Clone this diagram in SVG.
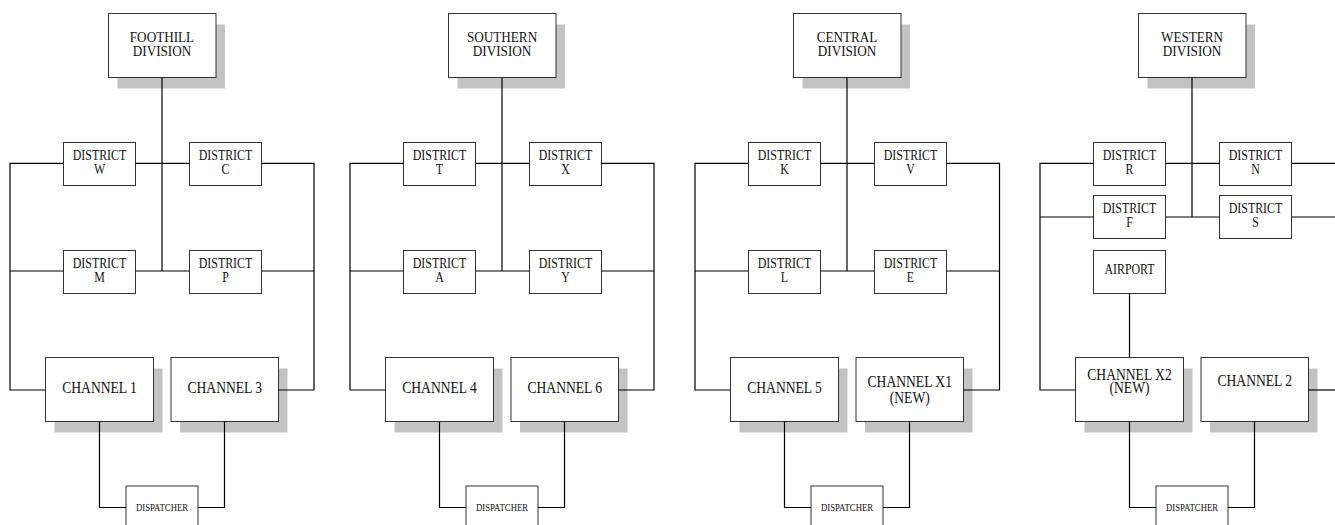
<svg xmlns="http://www.w3.org/2000/svg" width="1335" height="525" viewBox="0 0 1335 525">
<style>
.box{fill:#fff;stroke:#333;stroke-width:1}
.sh{fill:#c3c3c3}
.ln{fill:none;stroke:#000;stroke-width:1.2}
text{font-family:"Liberation Serif","Times New Roman",serif;fill:#111;text-anchor:middle;transform-box:fill-box;transform-origin:center;transform:scaleX(0.85)}
.dv{font-size:15.5px}
.ds{font-size:14px}
.ch{font-size:16px}
.dp{font-size:10.3px}
</style>
<rect width="1335" height="525" fill="#fff"/>

<!-- FOOTHILL -->
<g id="foothill-division"><rect class="sh" x="117.5" y="24.5" width="107.5" height="64"/><rect class="box" x="108.5" y="13.5" width="107.5" height="64"/><text class="dv"><tspan x="162" y="42.5">FOOTHILL</tspan><tspan x="162" dy="14">DIVISION</tspan></text></g>
<g id="district-w"><rect class="box" x="63.5" y="142.5" width="72" height="43"/><text class="ds"><tspan x="99.5" y="160.5">DISTRICT</tspan><tspan x="99.5" dy="14">W</tspan></text></g>
<g id="district-c"><rect class="box" x="189.5" y="142.5" width="72" height="43"/><text class="ds"><tspan x="225.5" y="160.5">DISTRICT</tspan><tspan x="225.5" dy="14">C</tspan></text></g>
<g id="district-m"><rect class="box" x="63.5" y="250.5" width="72" height="43"/><text class="ds"><tspan x="99.5" y="268.5">DISTRICT</tspan><tspan x="99.5" dy="13.5">M</tspan></text></g>
<g id="district-p"><rect class="box" x="189.5" y="250.5" width="72" height="43"/><text class="ds"><tspan x="225.5" y="268.5">DISTRICT</tspan><tspan x="225.5" dy="13.5">P</tspan></text></g>
<g id="channel-1"><rect class="sh" x="54.5" y="368.5" width="108" height="64"/><rect class="box" x="45.5" y="357.5" width="108" height="64"/><text class="ch" x="99.5" y="393.3">CHANNEL 1</text></g>
<g id="channel-3"><rect class="sh" x="180" y="368.5" width="107.5" height="64"/><rect class="box" x="171" y="357.5" width="107.5" height="64"/><text class="ch" x="224.75" y="393.3">CHANNEL 3</text></g>
<g id="dispatcher-1"><rect class="box" x="126" y="486" width="72" height="45"/><text class="dp" x="162" y="511.5">DISPATCHER</text></g>

<!-- SOUTHERN -->
<g id="southern-division"><rect class="sh" x="457.5" y="24.5" width="107.5" height="64"/><rect class="box" x="448.5" y="13.5" width="107.5" height="64"/><text class="dv"><tspan x="502" y="42.5">SOUTHERN</tspan><tspan x="502" dy="14">DIVISION</tspan></text></g>
<g id="district-t"><rect class="box" x="403.5" y="142.5" width="72" height="43"/><text class="ds"><tspan x="439.5" y="160.5">DISTRICT</tspan><tspan x="439.5" dy="14">T</tspan></text></g>
<g id="district-x"><rect class="box" x="529.5" y="142.5" width="72" height="43"/><text class="ds"><tspan x="565.5" y="160.5">DISTRICT</tspan><tspan x="565.5" dy="14">X</tspan></text></g>
<g id="district-a"><rect class="box" x="403.5" y="250.5" width="72" height="43"/><text class="ds"><tspan x="439.5" y="268.5">DISTRICT</tspan><tspan x="439.5" dy="13.5">A</tspan></text></g>
<g id="district-y"><rect class="box" x="529.5" y="250.5" width="72" height="43"/><text class="ds"><tspan x="565.5" y="268.5">DISTRICT</tspan><tspan x="565.5" dy="13.5">Y</tspan></text></g>
<g id="channel-4"><rect class="sh" x="394.5" y="368.5" width="108" height="64"/><rect class="box" x="385.5" y="357.5" width="108" height="64"/><text class="ch" x="439.5" y="393.3">CHANNEL 4</text></g>
<g id="channel-6"><rect class="sh" x="520" y="368.5" width="107.5" height="64"/><rect class="box" x="511" y="357.5" width="107.5" height="64"/><text class="ch" x="564.75" y="393.3">CHANNEL 6</text></g>
<g id="dispatcher-2"><rect class="box" x="466" y="486" width="72" height="45"/><text class="dp" x="502" y="511.5">DISPATCHER</text></g>

<!-- CENTRAL -->
<g id="central-division"><rect class="sh" x="802.5" y="24.5" width="107.5" height="64"/><rect class="box" x="793.5" y="13.5" width="107.5" height="64"/><text class="dv"><tspan x="847" y="42.5">CENTRAL</tspan><tspan x="847" dy="14">DIVISION</tspan></text></g>
<g id="district-k"><rect class="box" x="748.5" y="142.5" width="72" height="43"/><text class="ds"><tspan x="784.5" y="160.5">DISTRICT</tspan><tspan x="784.5" dy="14">K</tspan></text></g>
<g id="district-v"><rect class="box" x="874.5" y="142.5" width="72" height="43"/><text class="ds"><tspan x="910.5" y="160.5">DISTRICT</tspan><tspan x="910.5" dy="14">V</tspan></text></g>
<g id="district-l"><rect class="box" x="748.5" y="250.5" width="72" height="43"/><text class="ds"><tspan x="784.5" y="268.5">DISTRICT</tspan><tspan x="784.5" dy="13.5">L</tspan></text></g>
<g id="district-e"><rect class="box" x="874.5" y="250.5" width="72" height="43"/><text class="ds"><tspan x="910.5" y="268.5">DISTRICT</tspan><tspan x="910.5" dy="13.5">E</tspan></text></g>
<g id="channel-5"><rect class="sh" x="739.5" y="368.5" width="108" height="64"/><rect class="box" x="730.5" y="357.5" width="108" height="64"/><text class="ch" x="784.5" y="393.3">CHANNEL 5</text></g>
<g id="channel-x1"><rect class="sh" x="865" y="368.5" width="107.5" height="64"/><rect class="box" x="856" y="357.5" width="107.5" height="64"/><text class="ch"><tspan x="909.75" y="386.7">CHANNEL X1</tspan><tspan x="909.75" dy="16.6">(NEW)</tspan></text></g>
<g id="dispatcher-3"><rect class="box" x="811" y="486" width="72" height="45"/><text class="dp" x="847" y="511.5">DISPATCHER</text></g>

<!-- WESTERN -->
<g id="western-division"><rect class="sh" x="1147.5" y="24.5" width="107.5" height="64"/><rect class="box" x="1138.5" y="13.5" width="107.5" height="64"/><text class="dv"><tspan x="1192" y="42.5">WESTERN</tspan><tspan x="1192" dy="14">DIVISION</tspan></text></g>
<g id="district-r"><rect class="box" x="1093.5" y="142.5" width="72" height="43"/><text class="ds"><tspan x="1129.5" y="160.5">DISTRICT</tspan><tspan x="1129.5" dy="14">R</tspan></text></g>
<g id="district-n"><rect class="box" x="1219.5" y="142.5" width="72" height="43"/><text class="ds"><tspan x="1255.5" y="160.5">DISTRICT</tspan><tspan x="1255.5" dy="14">N</tspan></text></g>
<g id="district-f"><rect class="box" x="1093.5" y="195.5" width="72" height="43"/><text class="ds"><tspan x="1129.5" y="213.5">DISTRICT</tspan><tspan x="1129.5" dy="14">F</tspan></text></g>
<g id="district-s"><rect class="box" x="1219.5" y="195.5" width="72" height="43"/><text class="ds"><tspan x="1255.5" y="213.5">DISTRICT</tspan><tspan x="1255.5" dy="14">S</tspan></text></g>
<g id="airport"><rect class="box" x="1093.5" y="250.5" width="72" height="43"/><text class="ds" x="1129.5" y="274.5">AIRPORT</text></g>
<g id="channel-x2"><rect class="sh" x="1084.5" y="368.5" width="108" height="64"/><rect class="box" x="1075.5" y="357.5" width="108" height="64"/><text class="ch"><tspan x="1129.5" y="380">CHANNEL X2</tspan><tspan x="1129.5" dy="13">(NEW)</tspan></text></g>
<g id="channel-2"><rect class="sh" x="1210" y="368.5" width="107.5" height="64"/><rect class="box" x="1201" y="357.5" width="107.5" height="64"/><text class="ch" x="1254.75" y="385.7">CHANNEL 2</text></g>
<g id="dispatcher-4"><rect class="box" x="1156" y="486" width="72" height="45"/><text class="dp" x="1192" y="511.5">DISPATCHER</text></g>

<g id="connectors" class="ln">
<!-- Foothill -->
<path d="M162,77.5V271"/>
<path d="M63.5,163.3H10V390H45.5"/>
<path d="M135.5,163.3H189.5"/>
<path d="M261.5,163.3H314V390H278.5"/>
<path d="M10,271H63.5M135.5,271H189.5M261.5,271H314"/>
<path d="M99.5,421.5V507.5H126"/>
<path d="M224.5,421.5V507.5H198"/>
<!-- Southern -->
<path d="M502,77.5V271"/>
<path d="M403.5,163.3H350V390H385.5"/>
<path d="M475.5,163.3H529.5"/>
<path d="M601.5,163.3H654V390H618.5"/>
<path d="M350,271H403.5M475.5,271H529.5M601.5,271H654"/>
<path d="M439.5,421.5V507.5H466"/>
<path d="M564.5,421.5V507.5H538"/>
<!-- Central -->
<path d="M847,77.5V271"/>
<path d="M748.5,163.3H695V390H730.5"/>
<path d="M820.5,163.3H874.5"/>
<path d="M946.5,163.3H999.5V390H963.5"/>
<path d="M695,271H748.5M820.5,271H874.5M946.5,271H999.5"/>
<path d="M784.5,421.5V507.5H811"/>
<path d="M909.5,421.5V507.5H883"/>
<!-- Western -->
<path d="M1192,77.5V217"/>
<path d="M1093.5,163.3H1040V390H1075.5"/>
<path d="M1165.5,163.3H1219.5"/>
<path d="M1291.5,163.3H1336"/>
<path d="M1040,217H1093.5M1165.5,217H1219.5M1291.5,217H1336"/>
<path d="M1129.5,293.5V357.5"/>
<path d="M1308.5,390H1336"/>
<path d="M1129.5,421.5V507.5H1156"/>
<path d="M1254.5,421.5V507.5H1228"/>
</g>
</svg>
